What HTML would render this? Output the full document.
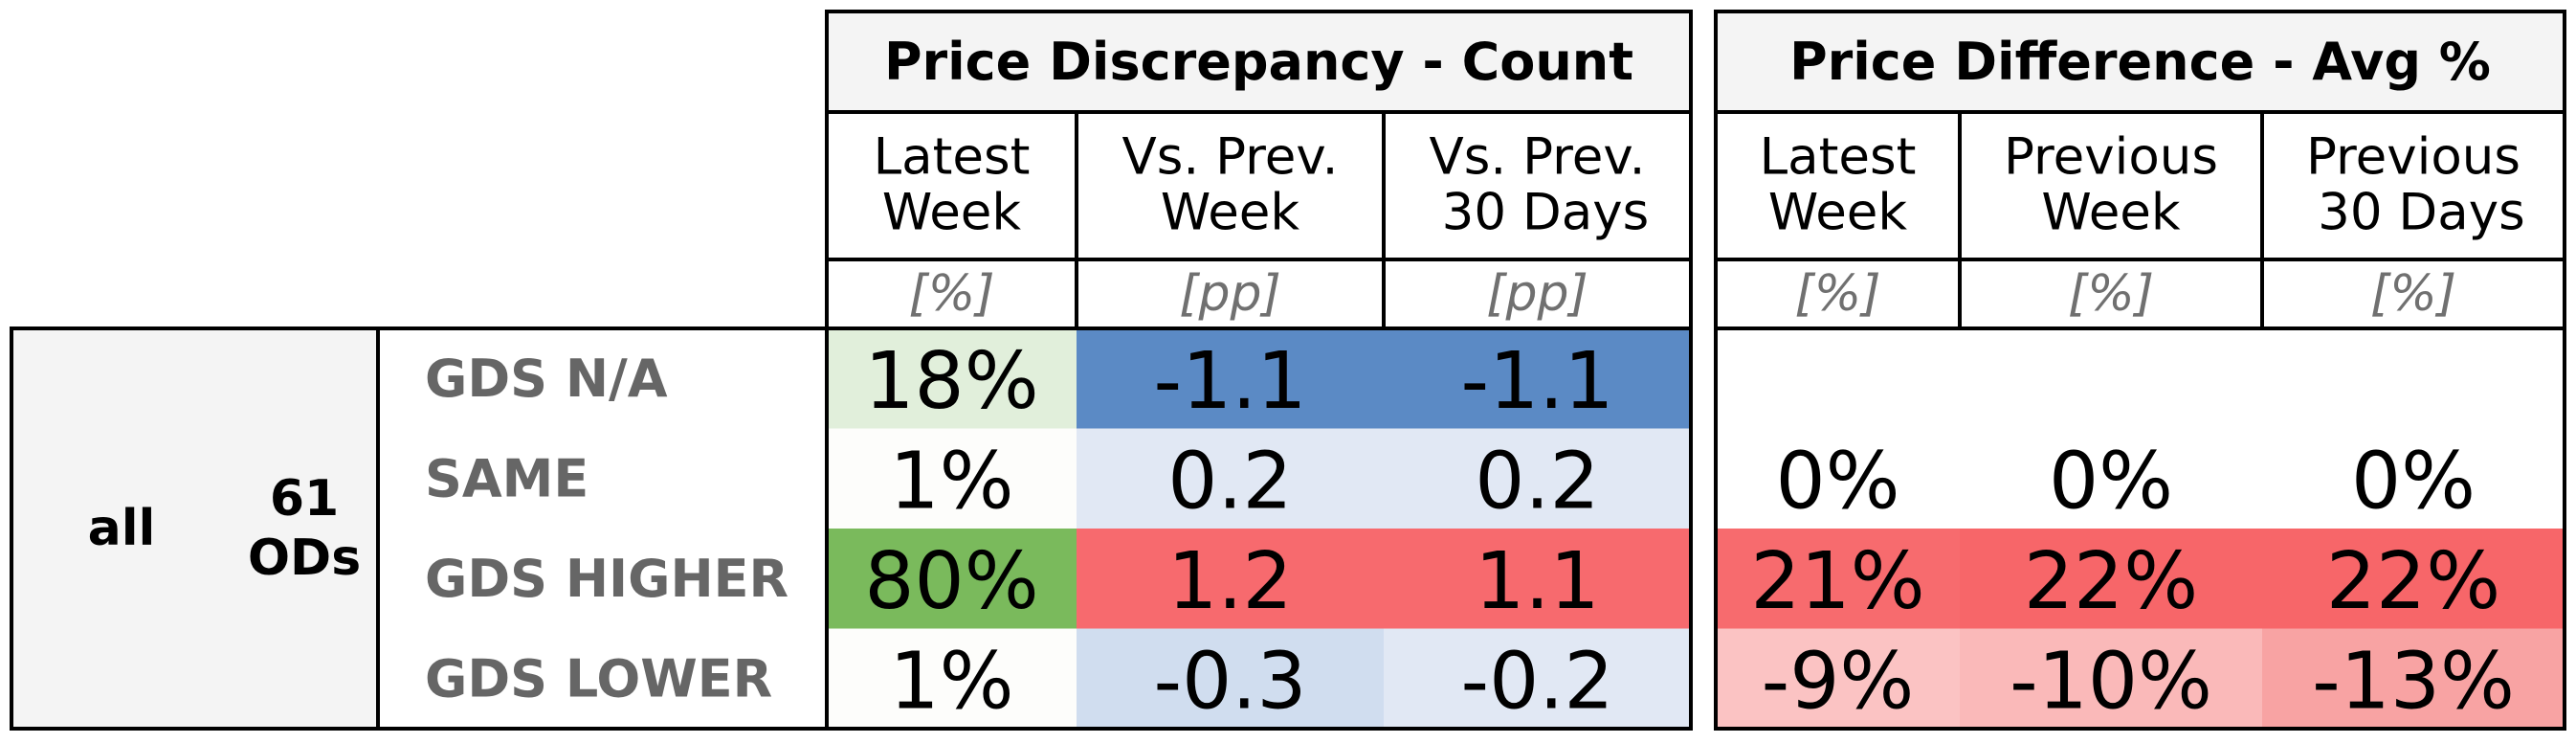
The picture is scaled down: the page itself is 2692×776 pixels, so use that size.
<!DOCTYPE html>
<html><head><meta charset="utf-8"><style>
html,body{margin:0;padding:0;background:#fff;width:2692px;height:776px;overflow:hidden}
svg{display:block;font-family:"DejaVu Sans","Liberation Sans",sans-serif}
</style></head><body>
<svg id="chart" width="2692" height="776" viewBox="0 0 2692 776" xmlns="http://www.w3.org/2000/svg"></svg>
<script>
const rowLabels = ["GDS N/A","SAME","GDS HIGHER","GDS LOWER"];
const countHeaders = [["Latest","Week"],["Vs. Prev.","Week"],["Vs. Prev."," 30 Days"]];
const avgHeaders = [["Latest","Week"],["Previous","Week"],["Previous"," 30 Days"]];
const countUnits = ["[%]","[pp]","[pp]"];
const avgUnits = ["[%]","[%]","[%]"];
const latestShare = ["18%","1%","80%","1%"];
const vsPrevWeek = ["-1.1","0.2","1.2","-0.3"];
const vsPrev30 = ["-1.1","0.2","1.1","-0.2"];
const avgLatest = ["","0%","21%","-9%"];
const avgPrevWeek = ["","0%","22%","-10%"];
const avgPrev30 = ["","0%","22%","-13%"];
const shareColors = ["#e1efdb","#fdfdfb","#7aba5c","#fdfdfb"];
const pwColors = ["#5b8ac5","#e1e8f4","#f76a6e","#d0ddef"];
const p30Colors = ["#5b8ac5","#e1e8f4","#f76a6e","#e1e8f4"];
const alColors = ["#ffffff","#ffffff","#f76b6e","#fbc3c3"];
const apwColors = ["#ffffff","#ffffff","#f76669","#fab9b9"];
const ap30Colors = ["#ffffff","#ffffff","#f76669","#f8a3a3"];

const svg = document.getElementById('chart');
const NS = "http://www.w3.org/2000/svg";
function mk(tag, attrs){const e=document.createElementNS(NS,tag);for(const k in attrs)e.setAttribute(k,attrs[k]);svg.appendChild(e);return e;}
function txt(x,y,s,size,opts){const t=mk('text',{x:x,y:y,'font-size':size,'text-anchor':opts.anchor||'middle','dominant-baseline':'central',fill:opts.fill||'#000','font-weight':opts.weight||'normal','font-style':opts.style||'normal'});t.setAttribute('style','white-space:pre');t.textContent=s;return t;}

const topY=12, titleB=117, headB=271, unitB=343, botY=761;
const rowH=(botY-unitB)/rowLabels.length;
const rowY = i => unitB + i*rowH;
const c1=[864,1125,1446,1767];
const c2=[1793,2048,2364,2680];

let e;
e=mk('rect',{x:12,y:unitB,width:383,height:botY-unitB,fill:'#f4f4f4'});


e=txt(127,unitB+(botY-unitB)/2,"all",52,{weight:'bold'});


e=txt(318,unitB+(botY-unitB)/2-31,"61",52,{weight:'bold'});


e=txt(318,unitB+(botY-unitB)/2+31,"ODs",52,{weight:'bold'});



rowLabels.forEach((l,i)=>{
  const t=txt(444,rowY(i)+rowH/2,l,54,{anchor:'start',weight:'bold',fill:'#666666'});
  
  
});

function block(cols,headers,units,series,colors,title,name){
  const r=mk('rect',{x:cols[0],y:topY,width:cols[3]-cols[0],height:titleB-topY,fill:'#f4f4f4'});
  
  
  const tt=txt((cols[0]+cols[3])/2,(topY+titleB)/2,title,54,{weight:'bold'});
  
  
  for(let c=0;c<3;c++){
    const cx=(cols[c]+cols[c+1])/2;
    const h1=txt(cx,164,headers[c][0],53,{});
    
    
    const h2=txt(cx,222,headers[c][1],53,{});
    
    
    const u=txt(cx,(headB+unitB)/2,units[c],52,{style:'italic',fill:'#707070'});
    
    
    series[c].forEach((v,i)=>{
      const cell=mk('rect',{x:cols[c],y:rowY(i),width:cols[c+1]-cols[c],height:rowH,fill:colors[c][i]});
      
      
      if(v){
        const vt=txt(cx,rowY(i)+rowH/2+3,v,82,{});
        
        
      }
    });
  }
  const L=(x1,y1,x2,y2)=>mk('line',{x1:x1,y1:y1,x2:x2,y2:y2,stroke:'#000','stroke-width':4});
  mk('rect',{x:cols[0],y:topY,width:cols[3]-cols[0],height:botY-topY,fill:'none',stroke:'#000','stroke-width':4});
  L(cols[0],titleB,cols[3],titleB);
  L(cols[0],headB,cols[3],headB);
  L(cols[0],unitB,cols[3],unitB);
  L(cols[1],titleB,cols[1],unitB);
  L(cols[2],titleB,cols[2],unitB);
}
block(c1,countHeaders,countUnits,[latestShare,vsPrevWeek,vsPrev30],[shareColors,pwColors,p30Colors],"Price Discrepancy - Count","count");
block(c2,avgHeaders,avgUnits,[avgLatest,avgPrevWeek,avgPrev30],[alColors,apwColors,ap30Colors],"Price Difference - Avg %","avg");

mk('rect',{x:12,y:unitB,width:c1[0]-12,height:botY-unitB,fill:'none',stroke:'#000','stroke-width':4});
mk('line',{x1:395,y1:unitB,x2:395,y2:botY,stroke:'#000','stroke-width':4});
</script>
</body></html>
